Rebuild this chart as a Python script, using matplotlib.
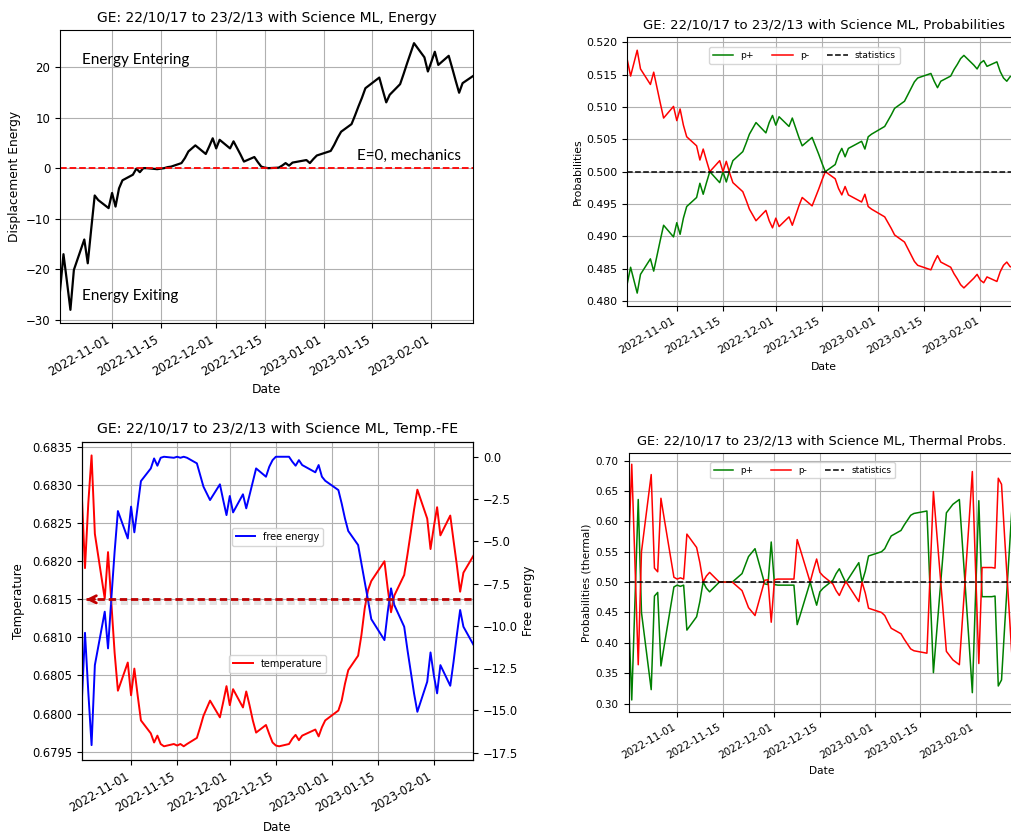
import matplotlib
matplotlib.use("Agg")
import matplotlib.pyplot as plt
import matplotlib.dates as mdates
import matplotlib.patheffects as pe
from matplotlib.lines import Line2D
from matplotlib.transforms import blended_transform_factory
import pandas as pd

# NYSE trading sessions between 2022-10-17 and 2023-02-13
holidays = ["2022-11-24", "2022-12-26", "2023-01-02", "2023-01-16"]
dates = pd.bdate_range("2022-10-17", "2023-02-13", freq="C", holidays=holidays)

# displacement energy
energy = [
    -24.3, -17.0, -22.4, -28.0, -20.1, -14.1, -18.8, -12.0, -5.4, -6.3, -7.9,
    -4.9, -7.6, -4.0, -2.4, -1.3, -0.1, -0.8, 0.0, 0.0, -0.2, -0.1, 0.0, 0.2, 0.3,
    1.0, 2.0, 3.3, 4.5, 2.8, 4.3, 5.9,
    3.9, 5.6, 3.9, 5.3, 4.0, 2.7, 1.3, 2.2, 1.2, 0.3, 0.1, 0.0, 0.1, 0.5, 1.0,
    0.5, 1.1, 1.6, 1.0, 1.8, 2.5,
    3.4, 4.6, 6.0, 7.2, 8.7, 10.4, 12.2, 13.9, 15.8, 17.9, 15.4, 13.0, 14.5,
    16.6, 18.6, 20.7, 22.7, 24.7, 21.9, 19.1,
    21.0, 23.0, 20.4, 22.2, 19.8, 17.3, 14.9, 16.8, 18.2,
]

# probabilities
p_plus = [
    0.4827, 0.4852, 0.4832, 0.4812, 0.4841, 0.4865, 0.4846, 0.4870, 0.4894, 0.4917, 0.4899,
    0.4921, 0.4903, 0.4928, 0.4946, 0.4960, 0.4982, 0.4965, 0.4983, 0.5000, 0.4983, 0.5000,
    0.4984, 0.5002, 0.5017, 0.5031, 0.5044, 0.5058, 0.5076, 0.5060, 0.5076, 0.5087,
    0.5072, 0.5085, 0.5070, 0.5083, 0.5068, 0.5053, 0.5040, 0.5053, 0.5040, 0.5027, 0.5013,
    0.5000, 0.5011, 0.5026, 0.5036, 0.5023, 0.5036, 0.5047, 0.5035, 0.5054, 0.5058,
    0.5070, 0.5079, 0.5088, 0.5098, 0.5109, 0.5119, 0.5129, 0.5139, 0.5145, 0.5152, 0.5140,
    0.5130, 0.5140, 0.5148, 0.5158, 0.5166, 0.5175, 0.5180, 0.5165, 0.5159,
    0.5168, 0.5172, 0.5163, 0.5170, 0.5155, 0.5145, 0.5140, 0.5147, 0.5152,
]
p_minus = [
    0.5173, 0.5148, 0.5168, 0.5188, 0.5159, 0.5135, 0.5154, 0.5130, 0.5106, 0.5083, 0.5101,
    0.5079, 0.5097, 0.5072, 0.5054, 0.5040, 0.5018, 0.5035, 0.5017, 0.5000, 0.5017, 0.5000,
    0.5016, 0.4998, 0.4983, 0.4969, 0.4956, 0.4942, 0.4924, 0.4940, 0.4924, 0.4913,
    0.4928, 0.4915, 0.4930, 0.4917, 0.4932, 0.4947, 0.4960, 0.4947, 0.4960, 0.4973, 0.4987,
    0.5000, 0.4989, 0.4974, 0.4964, 0.4977, 0.4964, 0.4953, 0.4965, 0.4946, 0.4942,
    0.4930, 0.4921, 0.4912, 0.4902, 0.4891, 0.4881, 0.4871, 0.4861, 0.4855, 0.4848, 0.4860,
    0.4870, 0.4860, 0.4852, 0.4842, 0.4834, 0.4825, 0.4820, 0.4835, 0.4841,
    0.4832, 0.4828, 0.4837, 0.4830, 0.4845, 0.4855, 0.4860, 0.4853, 0.4848,
]

# temperature and free energy
temperature = [
    0.68290, 0.68191, 0.68276, 0.68339, 0.68236, 0.68151, 0.68212, 0.68146, 0.68080, 0.68030, 0.68067,
    0.68024, 0.68059, 0.68024, 0.67991, 0.67974, 0.67962, 0.67971, 0.67960, 0.67957, 0.67960, 0.67958,
    0.67960, 0.67957, 0.67960, 0.67968, 0.67982, 0.67997, 0.68017, 0.67995, 0.68015, 0.68036,
    0.68011, 0.68032, 0.68008, 0.68029, 0.68011, 0.67991, 0.67975, 0.67985, 0.67973, 0.67962, 0.67958,
    0.67957, 0.67960, 0.67967, 0.67972, 0.67965, 0.67971, 0.67979, 0.67970, 0.67982, 0.67991,
    0.68004, 0.68017, 0.68039, 0.68057, 0.68076, 0.68103, 0.68138, 0.68162, 0.68174, 0.68200, 0.68164,
    0.68133, 0.68155, 0.68182, 0.68209, 0.68238, 0.68268, 0.68294, 0.68256, 0.68216,
    0.68245, 0.68271, 0.68234, 0.68260, 0.68227, 0.68195, 0.68160, 0.68185, 0.68207,
]
free_energy = [
    -14.6, -10.41, -13.9, -17.05, -12.32, -9.16, -11.33, -8.4, -5.62, -3.21, -4.83,
    -2.95, -4.47, -2.95, -1.44, -0.69, -0.10, -0.53, -0.06, 0.0, -0.06, 0.0,
    -0.06, 0.0, -0.06, -0.39, -1.08, -1.77, -2.56, -1.63, -2.56, -3.45,
    -2.32, -3.29, -2.22, -3.05, -2.27, -1.48, -0.69, -1.18, -0.59, -0.20, 0.0,
    0.0, 0.0, -0.29, -0.53, -0.20, -0.49, -0.92, -0.49, -1.18, -1.42,
    -1.97, -2.76, -3.65, -4.39, -5.22, -6.31, -7.39, -8.47, -9.60, -10.84, -9.17,
    -7.78, -8.77, -10.05, -11.43, -12.71, -14.0, -15.08, -13.30, -11.57,
    -12.91, -13.99, -12.32, -13.54, -12.12, -10.54, -9.06, -10.05, -11.10,
]

# thermal probabilities
pt_plus = [
    0.450, 0.306, 0.470, 0.636, 0.450, 0.323, 0.477, 0.483, 0.362, 0.395, 0.492,
    0.495, 0.493, 0.495, 0.421, 0.443, 0.468, 0.500, 0.490, 0.484, 0.500, 0.500,
    0.500, 0.500, 0.500, 0.514, 0.528, 0.542, 0.555, 0.497, 0.496, 0.566,
    0.496, 0.495, 0.495, 0.495, 0.495, 0.430, 0.447, 0.500, 0.480, 0.462, 0.484,
    0.490, 0.503, 0.514, 0.522, 0.510, 0.499, 0.532, 0.500, 0.518, 0.543,
    0.550, 0.555, 0.566, 0.576, 0.585, 0.594, 0.602, 0.610, 0.613, 0.617, 0.484,
    0.351, 0.417, 0.614, 0.621, 0.628, 0.632, 0.636, 0.400, 0.318,
    0.480, 0.634, 0.476, 0.476, 0.477, 0.329, 0.339, 0.430, 0.690,
]
pt_minus = [
    0.550, 0.694, 0.530, 0.364, 0.550, 0.677, 0.523, 0.517, 0.638, 0.605, 0.508,
    0.505, 0.507, 0.505, 0.579, 0.557, 0.532, 0.500, 0.510, 0.516, 0.500, 0.500,
    0.500, 0.500, 0.500, 0.486, 0.472, 0.458, 0.445, 0.503, 0.504, 0.434,
    0.504, 0.505, 0.505, 0.505, 0.505, 0.570, 0.553, 0.500, 0.520, 0.538, 0.516,
    0.510, 0.497, 0.486, 0.478, 0.490, 0.501, 0.468, 0.500, 0.482, 0.457,
    0.450, 0.445, 0.434, 0.424, 0.415, 0.406, 0.398, 0.390, 0.387, 0.383, 0.516,
    0.649, 0.583, 0.386, 0.379, 0.372, 0.368, 0.364, 0.600, 0.682,
    0.520, 0.366, 0.524, 0.524, 0.523, 0.671, 0.661, 0.570, 0.310,
]

title_base = "GE: 22/10/17 to 23/2/13 with Science ML, "

W, H = 1011, 834
fig = plt.figure(figsize=(W / 100, H / 100), dpi=100)
fig.patch.set_facecolor("white")


def place(l, t, r, b):
    return fig.add_axes([l / W, 1 - b / H, (r - l) / W, (b - t) / H])


def date_axis(ax, fs):
    ax.set_xlim(dates[0], dates[-1])
    ax.xaxis.set_major_locator(mdates.DayLocator(bymonthday=[1, 15]))
    ax.xaxis.set_major_formatter(mdates.DateFormatter("%Y-%m-%d"))
    ax.tick_params(axis="both", labelsize=fs)
    ax.tick_params(axis="x", labelrotation=30)
    plt.setp(ax.get_xticklabels(), ha="right")
    ax.grid(True)


# ---- Energy ----
ax1 = place(60, 30, 473, 323)
ax1.plot(dates, energy, color="black", lw=1.6)
ax1.axhline(0, color="red", ls="--", lw=1.3)
ax1.set_ylim(-30.6, 27.3)
date_axis(ax1, 8.5)
ax1.set_title(title_base + "Energy", fontsize=10)
ax1.set_xlabel("Date", fontsize=8.8)
ax1.set_ylabel("Displacement Energy", fontsize=8.8)
ax1.xaxis.set_label_coords(0.5, -0.205)
ax1.yaxis.set_label_coords(-0.094, 0.5)
note_font = dict(family=["Lato", "DejaVu Sans"], fontsize=11, va="center", transform=ax1.transAxes)
ax1.text(0.054, 0.898, "Energy Entering", **note_font)
ax1.text(0.054, 0.093, "Energy Exiting", **note_font)
ax1.text(0.718, 0.571, "E=0, mechanics", **note_font)

# ---- Probabilities ----
ax2 = place(627.3, 37.3, 1020, 306)
ax2.plot(dates, p_plus, color="green", lw=1.1, label="p+")
ax2.plot(dates, p_minus, color="red", lw=1.1, label="p-")
ax2.axhline(0.5, color="black", ls="--", lw=1.1, label="statistics")
ax2.set_ylim(0.4792, 0.5208)
date_axis(ax2, 7.8)
ax2.set_title(title_base + "Probabilities", fontsize=9.5)
ax2.set_xlabel("Date", fontsize=7.8)
ax2.set_ylabel("Probabilities", fontsize=7.8)
ax2.xaxis.set_label_coords(0.5, -0.21)
ax2.yaxis.set_label_coords(-0.113, 0.5)
ax2.legend(loc="upper center", bbox_to_anchor=(0.451, 0.963), ncol=3,
           fontsize=6.6, borderaxespad=0.0, handlelength=2.2, columnspacing=2.0)

# ---- Temperature / free energy ----
ax3 = place(81.7, 441.7, 473.3, 760)
ax3.plot(dates, temperature, color="red", lw=1.4, label="temperature")
ax3.set_ylim(0.67939, 0.68357)
ax3.set_yticks([0.6795, 0.6800, 0.6805, 0.6810, 0.6815, 0.6820, 0.6825, 0.6830, 0.6835])
ax3.yaxis.set_major_formatter(matplotlib.ticker.FormatStrFormatter("%.4f"))
date_axis(ax3, 8.3)
ax3.set_title(title_base + "Temp.-FE", fontsize=10.2)
ax3.set_xlabel("Date", fontsize=8.6)
ax3.set_ylabel("Temperature", fontsize=8.6)
ax3.xaxis.set_label_coords(0.5, -0.193)
ax3.yaxis.set_label_coords(-0.145, 0.5)
ax3.legend(loc="center", bbox_to_anchor=(0.5, 0.302), fontsize=7)

ax3b = ax3.twinx()
ax3b.plot(dates, free_energy, color="blue", lw=1.4, label="free energy")
ax3b.set_ylim(-17.93, 0.89)
ax3b.tick_params(axis="y", labelsize=8.3)
ax3b.set_ylabel("Free energy", fontsize=8.6)
ax3b.yaxis.set_label_coords(1.124, 0.5)
ax3b.legend(loc="center", bbox_to_anchor=(0.5, 0.7015), fontsize=7)

# reference level T = 0.6815 with a leftward arrow and a soft shadow
level = 0.6815
mix = blended_transform_factory(ax3b.transAxes, ax3.transData)
ref = Line2D([0.012, 1.0], [level, level], transform=mix, color="#c00000", lw=2.0,
             ls=(0, (2.6, 1.4)), zorder=5,
             path_effects=[pe.SimpleLineShadow(offset=(0.5, -1.2), shadow_color="gray",
                                               alpha=0.22, linewidth=5),
                           pe.Normal()])
ref.set_clip_on(False)
ax3b.add_line(ref)
ax3b.annotate("", xy=(0.004, level), xycoords=mix, xytext=(0.04, level), textcoords=mix,
              arrowprops=dict(arrowstyle="->", color="#c00000", lw=2.0, mutation_scale=13),
              zorder=6)
ax3b.set_xlim(dates[0], dates[-1])

# ---- Thermal probabilities ----
ax4 = place(628.5, 452.7, 1014.5, 712.3)
ax4.plot(dates, pt_plus, color="green", lw=1.1, label="p+")
ax4.plot(dates, pt_minus, color="red", lw=1.1, label="p-")
ax4.axhline(0.5, color="black", ls="--", lw=1.1, label="statistics")
ax4.set_ylim(0.2857, 0.7130)
date_axis(ax4, 7.5)
ax4.set_title(title_base + "Thermal Probs.", fontsize=9.3)
ax4.set_xlabel("Date", fontsize=7.6)
ax4.set_ylabel("Probabilities (thermal)", fontsize=7.6)
ax4.xaxis.set_label_coords(0.5, -0.207)
ax4.yaxis.set_label_coords(-0.097, 0.5)
ax4.legend(loc="upper center", bbox_to_anchor=(0.451, 0.963), ncol=3,
           fontsize=6.4, borderaxespad=0.0, handlelength=2.2, columnspacing=2.0)

fig.savefig("out.png", dpi=100, facecolor="white")
